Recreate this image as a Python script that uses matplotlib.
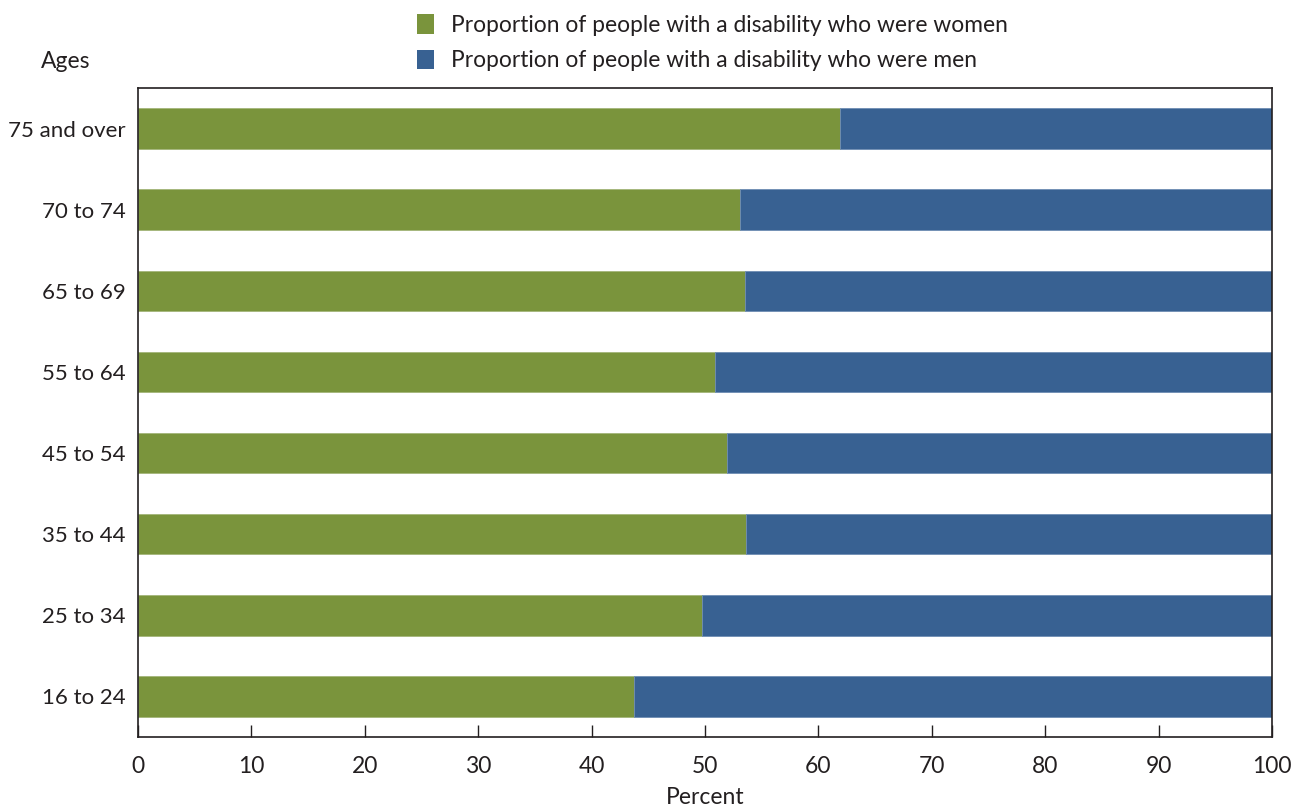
import matplotlib.pyplot as plt
from matplotlib.patches import Patch
import numpy as np

plt.rcParams['font.family'] = ['Lato', 'DejaVu Sans']

# data (bottom to top)
ages = ['16 to 24', '25 to 34', '35 to 44', '45 to 54', '55 to 64', '65 to 69', '70 to 74', '75 and over']
women = [43.7, 49.7, 53.6, 51.9, 50.9, 53.5, 53.1, 61.9]
men = [100 - w for w in women]

green = '#7a943c'
blue = '#386192'
ink = '#231f20'

fig = plt.figure(figsize=(13.02, 8.08), dpi=100)
ax = fig.add_axes([138/1302, 1-737/808, (1272-138)/1302, (737-88)/808])

y = np.arange(len(ages))
ax.barh(y, women, height=0.5, color=green, edgecolor='#a3b57a', linewidth=0.6)
ax.barh(y, men, left=women, height=0.5, color=blue, edgecolor='#6e8db3', linewidth=0.6)

ax.set_xlim(0, 100)
ax.set_ylim(-0.5, 7.5)
ax.set_xticks(range(0, 101, 10))
ax.set_yticks(y)
ax.set_yticklabels(ages)
ax.tick_params(axis='x', direction='in', length=9, width=1, color=ink, labelsize=16.5, labelcolor=ink, pad=14)
ax.tick_params(axis='y', length=0, labelsize=16, labelcolor=ink, pad=9)
for s in ax.spines.values():
    s.set_color(ink)
    s.set_linewidth(1.2)

ax.set_xlabel('Percent', fontsize=16.5, color=ink, labelpad=7)
fig.text(66/1302, 1-61/808, 'Ages', fontsize=16.5, color=ink, ha='center', va='center')

handles = [Patch(facecolor=green, label='Proportion of people with a disability who were women'),
           Patch(facecolor=blue, label='Proportion of people with a disability who were men')]
fig.legend(handles=handles, loc='upper left', bbox_to_anchor=(396/1302, 1.008), frameon=False,
           fontsize=16.4, handlelength=0.75, handleheight=0.95, handletextpad=0.75,
           labelspacing=0.62, labelcolor=ink)

fig.savefig('out.png', dpi=100)
